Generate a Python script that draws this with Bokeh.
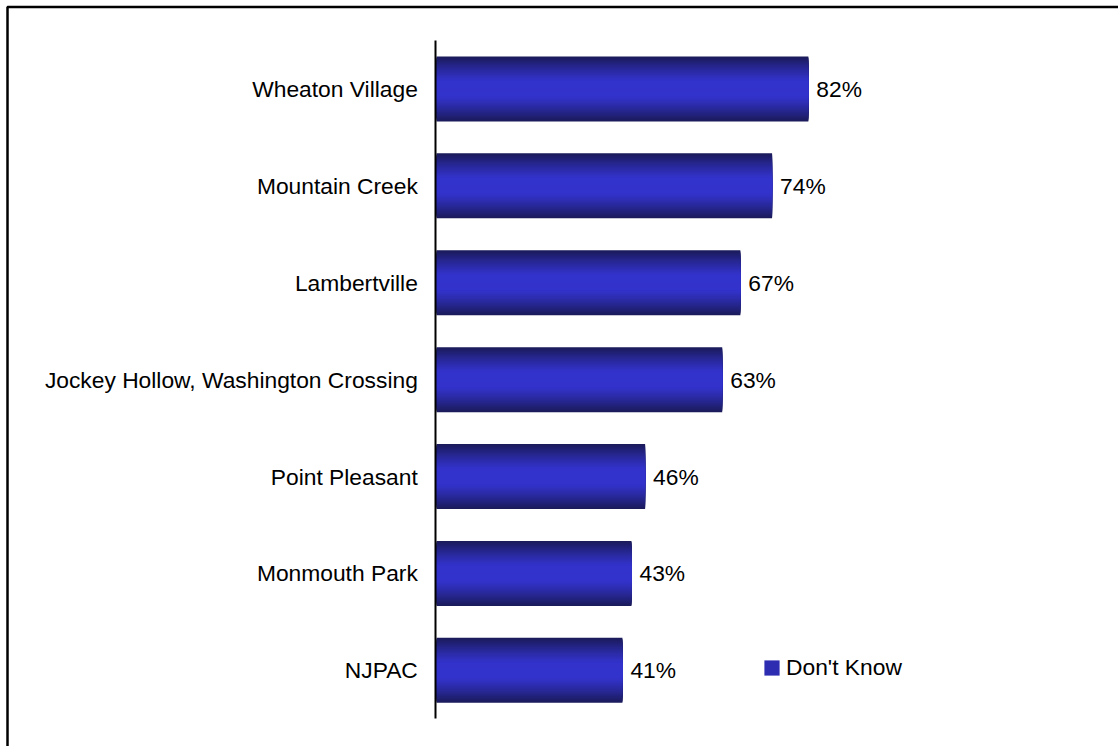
import numpy as np
from bokeh.plotting import figure
from bokeh.models import (ColumnDataSource, Range1d, LinearAxis, FixedTicker,
                          Legend, LegendItem, BoxAnnotation)
from bokeh.embed import file_html
from bokeh.resources import INLINE
from bokeh.core.properties import value

# ---- data ----
categories = ["Wheaton Village", "Mountain Creek", "Lambertville",
              "Jockey Hollow, Washington Crossing", "Point Pleasant",
              "Monmouth Park", "NJPAC"]
dont_know = [82, 74, 67, 63, 46, 43, 41]
series_name = "Don't Know"

# ---- layout constants (pixels) ----
W, H = 1118, 746
PX_X = 4.535          # pixels per percent
AXIS_PX = 436         # x pixel of the 0 line
BAND_PX = 96.9        # pixels per category band
TOP_PAD_PX = 40       # pixels above first band
BAR_H = 0.671         # bar thickness (band units)
FONT = "Liberation Sans"
FS = "22.8px"

x_start = -AXIS_PX / PX_X
x_end = (W - AXIS_PX) / PX_X
y_top = -0.5 - TOP_PAD_PX / BAND_PX
y_bottom = y_top + H / BAND_PX

p = figure(width=W, height=H,
           x_range=Range1d(x_start, x_end),
           y_range=Range1d(y_bottom, y_top),
           output_backend="svg", toolbar_location=None,
           x_axis_location=None, y_axis_location=None,
           min_border=0, min_border_left=0, min_border_right=0,
           min_border_top=0, min_border_bottom=0)
p.outline_line_color = None
p.grid.visible = False
p.background_fill_color = "white"
p.border_fill_color = "white"

# ---- gradient bars: concentric bars, darkest/outermost drawn first ----
N = 30
dark = np.array([0x1a, 0x1a, 0x58], dtype=float)
bright = np.array([0x33, 0x33, 0xcc], dtype=float)
ys, rights, hs, colors, levels = [], [], [], [], []
for k in range(N):
    d = 1 - (k + 0.5) / N
    f = np.clip((d - 0.22) / 0.78, 0, 1) ** 1.2
    c = bright * (1 - f) + dark * f
    col = "#%02x%02x%02x" % tuple(int(round(x)) for x in c)
    for i, v in enumerate(dont_know):
        ys.append(i)
        rights.append(v)
        hs.append(BAR_H * (1 - k / N))
        colors.append(col)
        levels.append(k)
src = ColumnDataSource(dict(y=ys, right=rights, h=hs, color=colors))
bars = p.hbar(y="y", left=0, right="right", height="h", source=src,
              fill_color="color", line_color=None)

# ---- value labels ----
lab_src = ColumnDataSource(dict(x=dont_know, y=list(range(len(categories))),
                                text=[f"{v}%" for v in dont_know]))
p.text(x="x", y="y", text="text", source=lab_src, x_offset=8,
       text_align="left", text_baseline="middle",
       text_font=value(FONT), text_font_size=FS, text_color="black")

# ---- category axis ----
yaxis = LinearAxis(ticker=FixedTicker(ticks=list(range(len(categories)))),
                   major_label_overrides={i: c for i, c in enumerate(categories)},
                   fixed_location=-0.15, bounds=(-0.5, len(categories) - 0.5))
yaxis.axis_line_color = "black"
yaxis.axis_line_width = 2
yaxis.major_tick_line_color = None
yaxis.minor_tick_line_color = None
yaxis.major_tick_out = 0
yaxis.major_tick_in = 0
yaxis.major_label_standoff = 18
yaxis.major_label_text_font = FONT
yaxis.major_label_text_font_size = FS
yaxis.major_label_text_color = "black"
p.add_layout(yaxis, "left")

# ---- legend ----
leg_index = levels.index(int(N * 0.55))
legend = Legend(items=[LegendItem(label=series_name, renderers=[bars], index=leg_index)],
                location=(762, 65), orientation="vertical",
                border_line_color=None, background_fill_alpha=0,
                padding=0, margin=0, spacing=0,
                glyph_width=19, glyph_height=19, label_standoff=5,
                label_text_font=FONT, label_text_font_size=FS,
                label_text_color="black")
p.add_layout(legend)

# ---- outer chart border (only top/left edges fall inside the window) ----
border = BoxAnnotation(left=x_start + 7 / PX_X, right=x_end + 20,
                       top=y_top + 6.5 / BAND_PX, bottom=y_bottom + 1,
                       fill_alpha=0, line_color="black", line_alpha=1.0,
                       line_width=2.5)
p.add_layout(border)

open("out.html", "w").write(file_html(p, INLINE))
